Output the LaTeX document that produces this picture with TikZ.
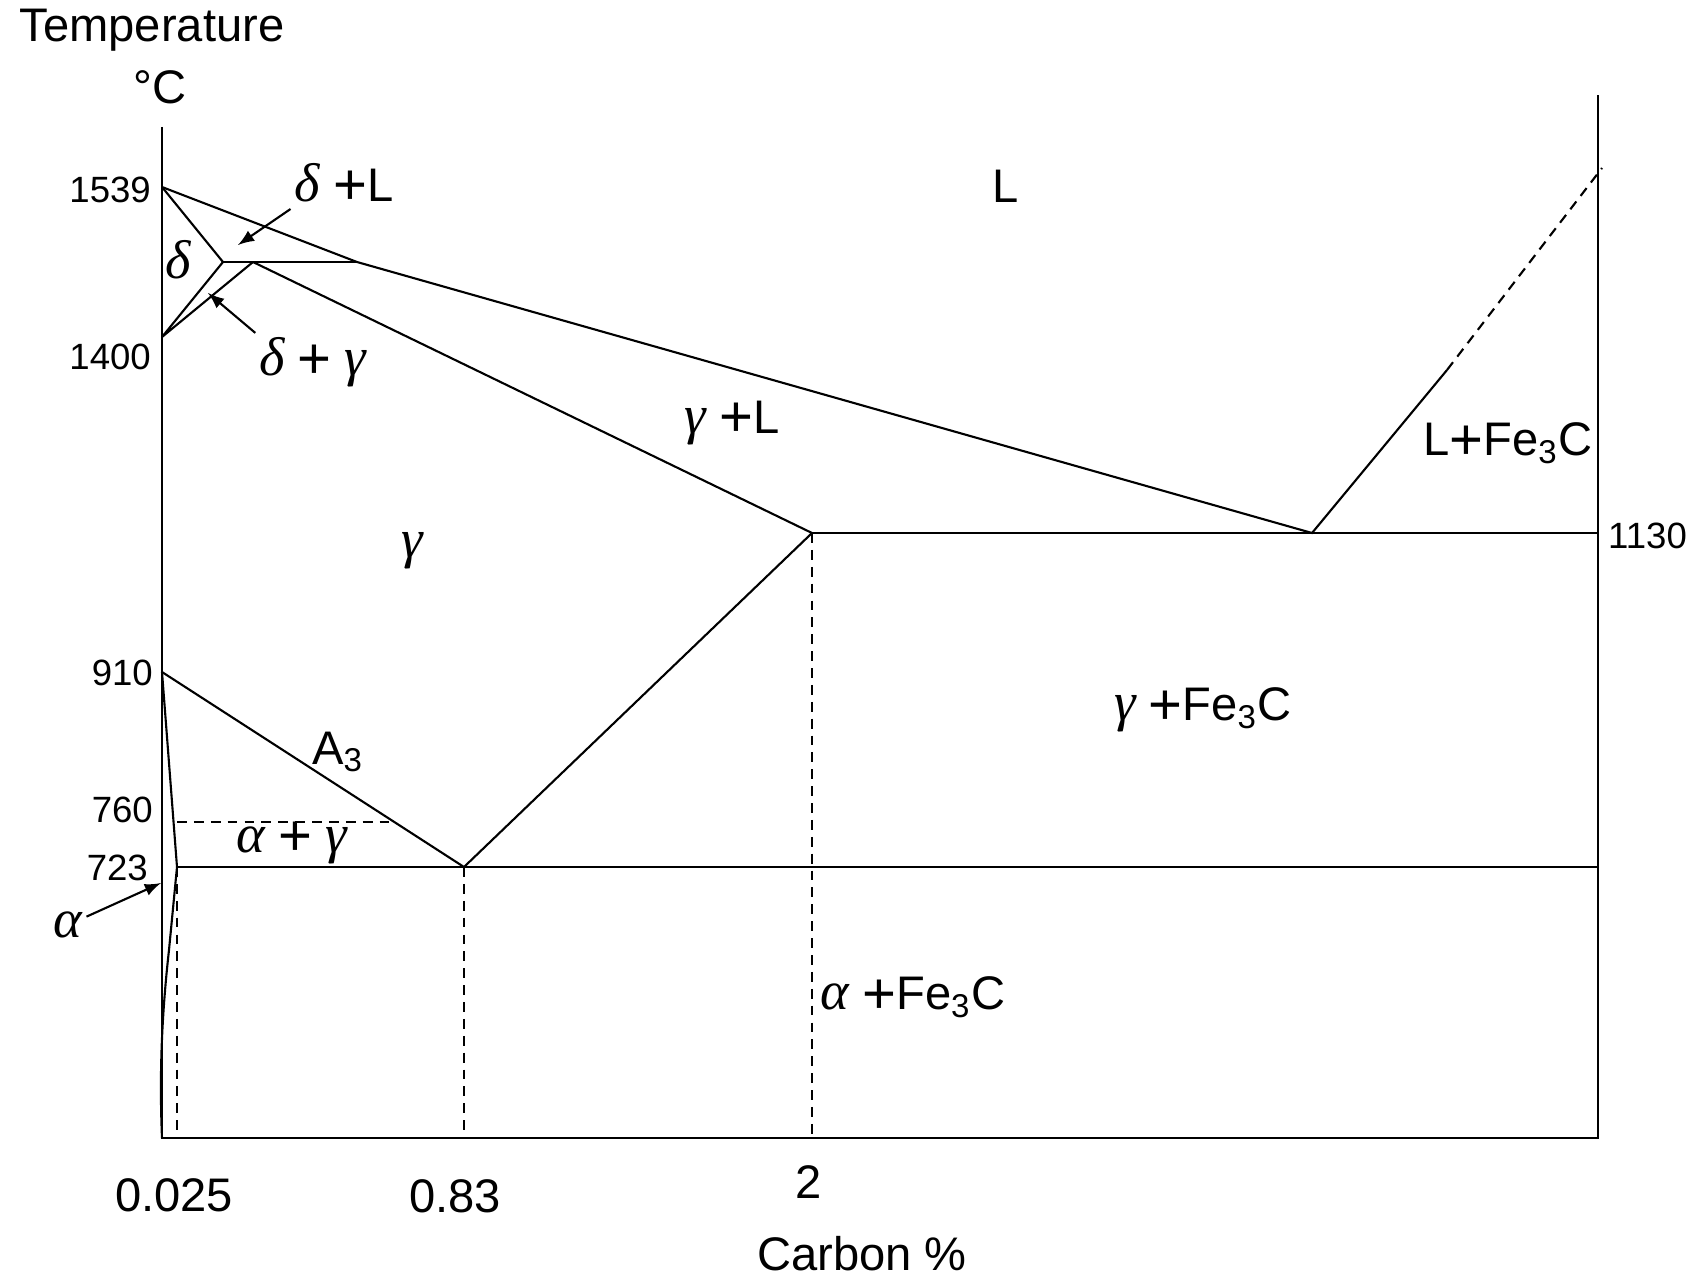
\documentclass[tikz,border=0pt]{standalone}
\usepackage{fontspec}
\setmainfont{Liberation Sans}
\newfontfamily\grk{Liberation Serif}
\newcommand{\gk}[1]{{\grk\itshape\fontsize{15.5}{16}\selectfont #1}}
\newcommand{\pl}{\raisebox{-1pt}{\fontsize{16.5}{16}\selectfont +}}
\usepackage{tikz}
\usetikzlibrary{arrows, calc}

\tikzset{
  phase/.style={line width=0.6pt},
  guide/.style={line width=0.6pt, dash pattern=on 2.8pt off 2pt},
  lbl/.style={font=\fontsize{13.4}{16}\selectfont, inner sep=1pt},
  tick/.style={font=\fontsize{10.4}{12}\selectfont, inner sep=1pt},
}

\begin{document}
\begin{tikzpicture}[x=0.01cm, y=-0.01cm, line join=miter]
  \useasboundingbox (0,0) rectangle (1700,1276);

  % Frame corners
  \coordinate (O) at (162,1138);
  \coordinate (Top) at (162,127);
  \coordinate (RB) at (1598,1138);
  \coordinate (RT) at (1598,95);

  % Key points (pixel units)
  \coordinate (P1539) at (162,187);
  \coordinate (P1400) at (162,337);
  \coordinate (Dtip) at (223,262);
  \coordinate (Peri) at (253,262);
  \coordinate (Pliq) at (357,262);
  \coordinate (G2) at (812,533);
  \coordinate (E) at (1312,533);
  \coordinate (R1130) at (1598,533);
  \coordinate (Hs) at (1447,370);
  \coordinate (Hd) at (1602,168);
  \coordinate (P910) at (162,672);
  \coordinate (Eut) at (464,867);
  \coordinate (A723) at (177,867);
  \coordinate (R723) at (1598,867);
  \coordinate (P760) at (177,822);
  \coordinate (Q760) at (392,822);

  % Axes
  \draw[phase] (Top) -- (O) -- (RB) -- (RT);

  % Delta corner
  \draw[phase] (P1539) -- (Dtip) -- (P1400) -- (Peri);
  \draw[phase] (Dtip) -- (Pliq);

  % Liquidus and solidus
  \draw[phase] (P1539) -- (Pliq) -- (E) -- (Hs);
  \draw[guide] (Hs) -- (Hd);
  \draw[phase] (Peri) -- (G2);
  \draw[phase] (G2) -- (R1130);

  % Austenite boundaries
  \draw[phase] (P910) -- (Eut) -- (G2);
  \draw[phase] (A723) -- (R723);

  % Ferrite solvus
  \draw[phase] (P910) -- (A723) -- (169,950) .. controls (160,1030) and (160,1090) .. (O);

  % Dashed guides
  \draw[guide] (P760) -- (Q760);
  \draw[guide] (A723) -- (A723 |- O);
  \draw[guide] (Eut) -- (Eut |- O);
  \draw[guide] (G2) -- (G2 |- O);

  % Axis titles
  \node[lbl] (ytitle) at (152,30) {Temperature};
  \node[lbl] (yunit) at (160,87) {°C};
  \node[lbl] (xtitle) at (862,1254) {Carbon \%};

  % Temperature ticks
  \node[tick, anchor=east] (t1539) at (155,190) {1539};
  \node[tick, anchor=east] (t1400) at (155,357) {1400};
  \node[tick, anchor=east] (t910) at (157,673) {910};
  \node[tick, anchor=east] (t760) at (157,810) {760};
  \node[tick, anchor=east] (t723) at (152,868) {723};
  \node[tick, anchor=west] (t1130) at (1604,536) {1130};

  % Composition ticks
  \node[lbl] (c025) at (174,1195) {0.025};
  \node[lbl] (c083) at (455,1196) {0.83};
  \node[lbl] (c2) at (809,1182) {2};

  % Phase labels
  \node[lbl] (liq) at (1006,186) {L};
  \node[lbl] (delta) at (178,260) {\gk{δ}};
  \node[lbl] (dL) at (344,184) {\gk{δ} \pl L};
  \node[lbl] (dg) at (313,362) {\gk{δ} \pl{} \gk{γ}};
  \node[lbl] (gL) at (732,423) {\gk{γ} \pl L};
  \node[lbl] (gam) at (412,551) {\gk{γ}};
  \node[lbl] (LFe) at (1508,443) {L\pl Fe\textsubscript{3}C};
  \node[lbl] (gFe) at (1203,710) {\gk{γ} \pl Fe\textsubscript{3}C};
  \node[lbl] (A3) at (338,752) {A\textsubscript{3}};
  \node[lbl] (ag) at (292,843) {\gk{α} \pl{} \gk{γ}};
  \node[lbl] (aFe) at (913,997) {\gk{α} \pl Fe\textsubscript{3}C};
  \node[lbl] (alpha) at (68,925) {\gk{α}};

  % Pointers
  \coordinate (dLtip) at (238,245);
  \coordinate (dgtip) at (208,293);
  \coordinate (atip) at (161,883);
  \draw[phase,-latex] (dL.south west) -- (dLtip);
  \draw[phase,-latex] (dg.north west) -- (dgtip);
  \draw[phase,-latex] (alpha) -- (atip);
\end{tikzpicture}
\end{document}
